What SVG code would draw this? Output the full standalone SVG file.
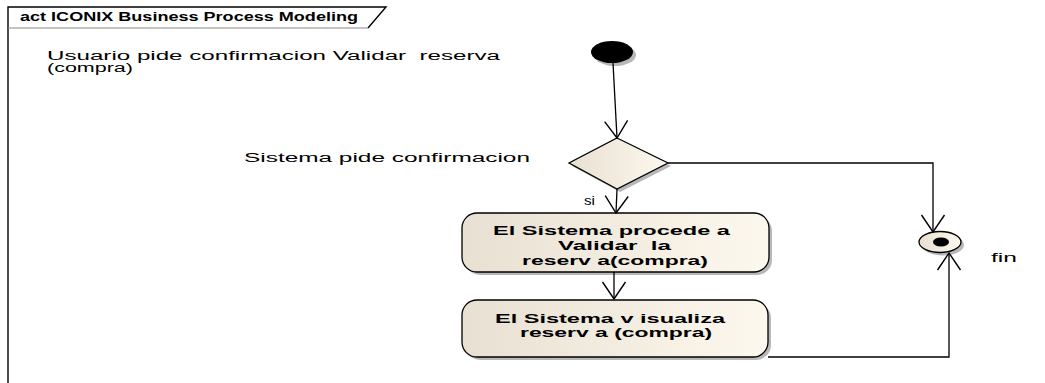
<svg xmlns="http://www.w3.org/2000/svg" width="1045" height="383" viewBox="0 0 1045 383">
<style>
text{white-space:pre}
.t{font-family:"Liberation Sans",Arial,sans-serif;font-size:12px;fill:#000}
.b{font-family:"Liberation Sans",Arial,sans-serif;font-size:12px;font-weight:bold;fill:#000}
.ln{fill:none;stroke:#000;stroke-width:1.3}
.sh{fill:#b8b8b8}
.nd{fill:url(#g);stroke:#000;stroke-width:1.3}
</style>
<defs>
<linearGradient id="g" x1="0" y1="0" x2="1" y2="0">
<stop offset="0" stop-color="#e8e0d2"/>
<stop offset="1" stop-color="#fdf8ee"/>
</linearGradient>
<marker id="a" markerUnits="userSpaceOnUse" markerWidth="40" markerHeight="40" refX="0" refY="0" viewBox="-20 -20 40 40" orient="auto" overflow="visible">
<path d="M-17,-11.5 L0,0 L-17,11.5" fill="none" stroke="#000" stroke-width="1.4"/>
</marker>
</defs>
<rect width="1045" height="383" fill="#fff"/>
<g id="frame">
<path d="M8,383 L8,7 L386,7 L368,28" fill="none" stroke="#000" stroke-width="1.4"/>
<line x1="8" y1="28" x2="368" y2="28" stroke="#8a8a8a" stroke-width="1.2"/>
<text class="b" x="20" y="21" textLength="338" lengthAdjust="spacingAndGlyphs">act ICONIX Business Process Modeling</text>
</g>
<g id="note1">
<text class="t" x="47" y="60" textLength="453" lengthAdjust="spacingAndGlyphs" xml:space="preserve">Usuario pide confirmacion Validar  reserva</text>
<text class="t" x="47" y="72" textLength="86" lengthAdjust="spacingAndGlyphs">(compra)</text>
</g>
<g id="initial">
<ellipse class="sh" cx="615" cy="55" rx="21" ry="11"/>
<ellipse cx="612" cy="52" rx="21" ry="11" fill="#000"/>
</g>
<g id="decision">
<polygon class="sh" points="620,141 671,166 620,192 572,166"/>
<polygon class="nd" points="617,138 668,163 617,189 569,163"/>
<text class="t" x="244" y="162" textLength="286" lengthAdjust="spacingAndGlyphs">Sistema pide confirmacion</text>
</g>
<g id="action1">
<rect class="sh" x="465" y="216" width="307" height="59" rx="15" ry="15"/>
<rect class="nd" x="462" y="213" width="307" height="59" rx="15" ry="15"/>
<text class="b" x="493" y="235" textLength="237" lengthAdjust="spacingAndGlyphs">El Sistema procede a</text>
<text class="b" x="558" y="250" textLength="113" lengthAdjust="spacingAndGlyphs" xml:space="preserve">Validar  la</text>
<text class="b" x="522" y="265" textLength="186" lengthAdjust="spacingAndGlyphs">reserv a(compra)</text>
</g>
<g id="action2">
<rect class="sh" x="465" y="303" width="306" height="57" rx="15" ry="15"/>
<rect class="nd" x="462" y="300" width="306" height="57" rx="15" ry="15"/>
<text class="b" x="495" y="323" textLength="230" lengthAdjust="spacingAndGlyphs">El Sistema v isualiza</text>
<text class="b" x="520" y="337" textLength="192" lengthAdjust="spacingAndGlyphs">reserv a (compra)</text>
</g>
<g id="final">
<ellipse class="sh" cx="943" cy="245" rx="21" ry="10.5"/>
<ellipse class="nd" cx="940" cy="242" rx="21" ry="10.5"/>
<ellipse cx="941" cy="242" rx="8" ry="4.5" fill="#000"/>
<text class="t" x="991" y="262" textLength="26" lengthAdjust="spacingAndGlyphs">fin</text>
</g>
<g id="connectors">
<path class="ln" d="M613,63 L617,138" marker-end="url(#a)"/>
<path class="ln" d="M617,189 L616,213" marker-end="url(#a)"/>
<text class="t" x="584" y="205" textLength="11" lengthAdjust="spacingAndGlyphs">si</text>
<path class="ln" d="M614,272 L614,299" marker-end="url(#a)"/>
<path class="ln" d="M668,163 L933,163 L933,232" marker-end="url(#a)"/>
<path class="ln" d="M768,357 L949,357 L949,253" marker-end="url(#a)" stroke="#333"/>
</g>
</svg>
